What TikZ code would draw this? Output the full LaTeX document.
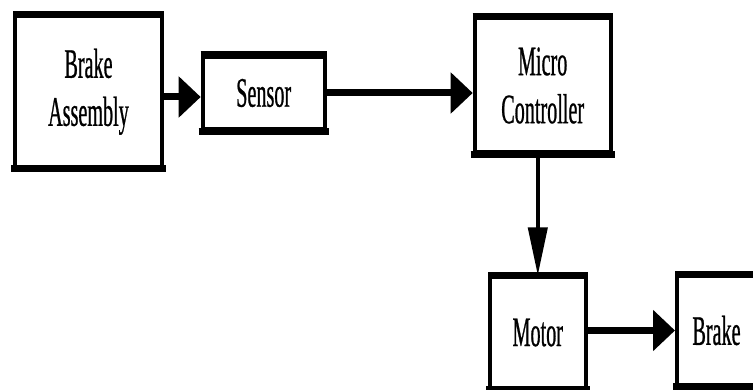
\documentclass[tikz,border=0pt]{standalone}
\usepackage{fontspec}
\newfontfamily\blockfont[FakeStretch=0.48, FakeBold=0.6]{Liberation Serif}
\usetikzlibrary{arrows.meta}

\begin{document}
\begin{tikzpicture}[
  x=1pt, y=-1pt,
  block/.style={draw, line width=4pt, inner sep=0pt, align=center,
    font=\blockfont\fontsize{42}{48}\selectfont},
  edge/.style={line width=7pt, shorten <=-2pt, shorten >=-2pt},
  hflow/.style={-{Triangle[length=22pt, width=40pt]}, line width=7pt},
  vflow/.style={-{Triangle[length=48pt, width=19pt]}, line width=4pt},
]
\useasboundingbox (0,0) rectangle (753,390);

% ===== blocks =====
\node[block, minimum width=147pt, minimum height=150.5pt] (asm) at (88.5,91.75) {Brake\\Assembly};
\node[block, minimum width=122pt, minimum height=72.4pt] (sensor) at (263.7,93) {Sensor};
\node[block, minimum width=136pt, minimum height=134pt] (mcu) at (542.7,85.5) {Micro\\Controller};
\node[block, minimum width=95.5pt, minimum height=110pt] (motor) at (537.8,332.5) {Motor};
\node[block, minimum width=79pt, minimum height=108pt] (brake) at (716.5,330.5) {Brake};

% heavier top and bottom edges
\foreach \n in {asm,sensor,mcu,motor,brake}
  \draw[edge] (\n.north west) -- (\n.north east) (\n.south west) -- (\n.south east);

% ===== signal flow =====
\draw[hflow] (asm.east |- 0,97) -- (sensor.west |- 0,97);
\draw[hflow] (sensor.east) -- (mcu.west |- sensor.east);
\draw[vflow] (motor.north |- mcu.south) -- (motor.north);
\draw[hflow] (motor.east |- brake.west) -- (brake.west);

\end{tikzpicture}
\end{document}
